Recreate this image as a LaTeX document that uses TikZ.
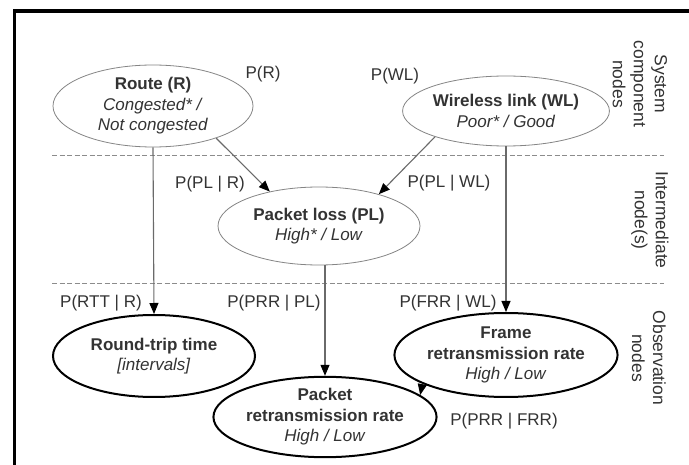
\documentclass[tikz,border=0pt]{standalone}
\usepackage{fontspec}
\setmainfont{Liberation Sans}
\usetikzlibrary{shapes.geometric,arrows.meta}
\definecolor{txt}{HTML}{333333}
\definecolor{linkgray}{HTML}{6A6A6A}
\definecolor{rimgray}{HTML}{858585}
\definecolor{dashgray}{HTML}{8C8C8C}
\begin{document}
\begin{tikzpicture}[x=1pt,y=-1pt,
  every node/.style={text=txt, font=\fontsize{17}{20.5}\selectfont},
  sysnode/.style={ellipse, draw=rimgray, line width=0.8pt, inner sep=0pt, align=center},
  obsnode/.style={ellipse, draw=black, line width=2pt, inner sep=0pt, align=center},
  link/.style={draw=linkgray, line width=1.1pt,
    -{Triangle[length=11pt,width=9pt,color=black,fill=black]}},
  layer/.style={draw=dashgray, dash pattern=on 5pt off 2.5pt, line width=0.9pt},
  side/.style={rotate=-90, align=center, font=\fontsize{17.5}{21}\selectfont},
  prob/.style={inner sep=0pt}
]
\useasboundingbox (0,0) rectangle (689,465);
\fill[white] (0,0) rectangle (689,465);

% outer frame (top and left edges)
\draw[line width=3.3pt, line join=miter] (14.3,466) -- (14.3,11) -- (690,11);

% layer separators
\coordinate (d1a) at (52,155);  \coordinate (d1b) at (664,155);
\coordinate (d2a) at (52,283);  \coordinate (d2b) at (664,283);
\draw[layer] (d1a) -- (d1b);
\draw[layer] (d2a) -- (d2b);

% system component nodes
\node[sysnode, minimum width=200pt, minimum height=82pt] (R) at (153,106)
  {\textbf{Route (R)}\\\textit{Congested* /}\\\textit{Not congested}};
\node[sysnode, minimum width=204pt, minimum height=70pt] (WL) at (506,111)
  {\textbf{Wireless link (WL)}\\\textit{Poor* / Good}};

% intermediate node
\node[sysnode, minimum width=202pt, minimum height=78pt] (PL) at (319,226)
  {\textbf{Packet loss (PL)}\\\textit{High* / Low}};

% observation nodes
\node[obsnode, minimum width=202pt, minimum height=82pt] (RTT) at (154,356)
  {\textbf{Round-trip time}\\\textit{[intervals]}};
\node[obsnode, minimum width=202pt, minimum height=84pt] (FRR) at (506,355)
  {\textbf{Frame}\\\textbf{retransmission rate}\\\textit{High / Low}};
\node[obsnode, minimum width=206pt, minimum height=80pt] (PRR) at (325,417)
  {\textbf{Packet}\\\textbf{retransmission rate}\\\textit{High / Low}};

% dependencies
\draw[link] (R.south) -- (RTT.north);
\draw[link] (R.-27) -- (PL.145);
\draw[link] (WL.200) -- (PL.28);
\draw[link] (WL.south) -- (FRR.north);
\draw[link] (PRR.north |- PL.south) -- (PRR.north);
\draw[link] (FRR.199) -- (PRR.13);

% probability labels
\node[prob] (pR)    at (263,74)  {P(R)};
\node[prob] (pWL)   at (395,76)  {P(WL)};
\node[prob] (pPLR)  at (210,184) {P(PL | R)};
\node[prob] (pPLWL) at (449,183) {P(PL | WL)};
\node[prob] (pRTT)  at (101,303) {P(RTT | R)};
\node[prob] (pPRR)  at (274,303) {P(PRR | PL)};
\node[prob] (pFRR)  at (448,303) {P(FRR | WL)};
\node[prob] (pPRRF) at (504,421) {P(PRR | FRR)};

% layer titles
\node[side] (lsys) at (640,84)  {System\\component\\nodes};
\node[side] (lint) at (650,220) {Intermediate\\node(s)};
\node[side] (lobs) at (649,358) {Observation\\nodes};
\end{tikzpicture}
\end{document}
